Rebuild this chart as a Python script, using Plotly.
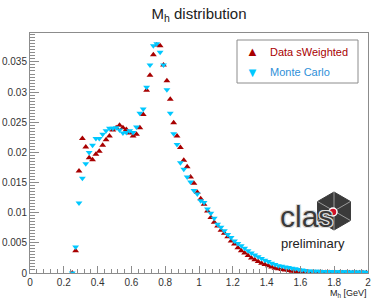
import plotly.graph_objects as go
import math

# ---------------- data ----------------
mass = [round(0.25 + 0.02 * k, 2) for k in range(88)]

data_sw = [
    0.0, 0.0037, 0.0169, 0.0223, 0.0209, 0.0191, 0.0188, 0.0197, 0.0202, 0.0212,
    0.0221, 0.0227, 0.0237, 0.0241, 0.0245, 0.0241, 0.0238, 0.0232, 0.0227, 0.0230,
    0.0241, 0.0263, 0.0303, 0.0328, 0.0362, 0.0378, 0.0377, 0.0345, 0.0319, 0.0288,
    0.0249, 0.0227, 0.0208, 0.0187, 0.0176, 0.0159, 0.0149, 0.0134, 0.0123, 0.0114,
    0.0103, 0.0092, 0.0084, 0.0078, 0.0071, 0.0066, 0.0060, 0.0053, 0.0048, 0.0042,
    0.0037, 0.0033, 0.0029, 0.0025, 0.0022, 0.0019, 0.0016, 0.0014, 0.0012, 0.0010,
    0.0008, 0.0007, 0.0006, 0.0005, 0.0004, 0.0003, 0.00025, 0.0002, 0.00015, 0.00012,
    0.0001, 0.0001, 0.00009, 0.00008, 0.00008, 0.00007, 0.00007, 0.00006, 0.00006, 0.00005,
    0.00005, 0.00005, 0.00004, 0.00004, 0.00004, 0.00003, 0.00003, 0.00003,
]

monte_carlo = [
    0.0, 0.0043, 0.0116, 0.0157, 0.0181, 0.0200, 0.0212, 0.0223, 0.0223, 0.0230,
    0.0236, 0.0240, 0.0240, 0.0241, 0.0237, 0.0232, 0.0233, 0.0236, 0.0233, 0.0242,
    0.0265, 0.0272, 0.0308, 0.0345, 0.0377, 0.0380, 0.0366, 0.0345, 0.0304, 0.0265,
    0.0231, 0.0213, 0.0183, 0.0172, 0.0159, 0.0151, 0.0137, 0.0131, 0.0120, 0.0117,
    0.0106, 0.0099, 0.0091, 0.0081, 0.0076, 0.0070, 0.0064, 0.0059, 0.0053, 0.0049,
    0.0045, 0.0041, 0.0037, 0.0033, 0.0030, 0.0027, 0.0024, 0.0021, 0.0019, 0.0016,
    0.0014, 0.0012, 0.0011, 0.0010, 0.0009, 0.0008, 0.0007, 0.0006, 0.0005, 0.0004,
    0.00035, 0.0003, 0.0003, 0.00028, 0.00026, 0.00025, 0.00024, 0.00023, 0.00022, 0.0002,
    0.0002, 0.00019, 0.00018, 0.00017, 0.00016, 0.00015, 0.00015, 0.00014,
]

x_ticks = [0, 0.2, 0.4, 0.6, 0.8, 1, 1.2, 1.4, 1.6, 1.8, 2]
x_tick_labels = ["0", "0.2", "0.4", "0.6", "0.8", "1", "1.2", "1.4", "1.6", "1.8", "2"]
y_ticks = [0, 0.005, 0.01, 0.015, 0.02, 0.025, 0.03, 0.035]
y_tick_labels = ["0", "0.005", "0.01", "0.015", "0.02", "0.025", "0.03", "0.035"]

RED = "#a80000"
CYAN = "#00c8ff"
FONT = "Liberation Sans"

W, H = 374, 308
L, R, T, B = 30, 6, 33, 35
PW, PH = W - L - R, H - T - B

fig = go.Figure()
fig.add_trace(go.Scatter(
    x=mass, y=data_sw, mode="markers", name="Data sWeighted",
    marker=dict(symbol="triangle-up", size=6, color=RED, line=dict(width=0)),
))
fig.add_trace(go.Scatter(
    x=mass, y=monte_carlo, mode="markers", name="Monte Carlo",
    marker=dict(symbol="triangle-down", size=6, color=CYAN, line=dict(width=0)),
))

fig.update_layout(
    width=W, height=H,
    margin=dict(l=L, r=R, t=T, b=B, autoexpand=False),
    paper_bgcolor="white", plot_bgcolor="white",
    font=dict(family=FONT, size=10, color="#222"),
    showlegend=False,
    title=dict(text="M<sub>h</sub> distribution", x=0.5, xanchor="center", xref="paper",
               y=1 - 14 / H, yanchor="middle", font=dict(size=15, color="#222")),
)

axis_common = dict(
    showgrid=False, zeroline=False, showline=True, linecolor="#8c8c8c", linewidth=1,
    mirror=True, ticks="inside", tickcolor="#8c8c8c", automargin=False,
    tickfont=dict(size=10, color="#333"),
)
fig.update_xaxes(range=[0, 2], tickvals=x_ticks, ticktext=x_tick_labels, ticklen=7,
                 minor=dict(ticks="inside", ticklen=4, dtick=0.04, tickcolor="#8c8c8c"),
                 **axis_common)
fig.update_yaxes(range=[0, 0.0398], tickvals=y_ticks, ticktext=y_tick_labels, ticklen=9,
                 minor=dict(ticks="inside", ticklen=5, dtick=0.0005, tickcolor="#8c8c8c"),
                 **axis_common)

def px(xp):
    return (xp - L) / PW

def py(yp):
    return 1 - (yp - T) / PH

def label(text, x, y, size, color, anchor="center", family=FONT, shadow=None):
    font = dict(size=size, color=color, family=family)
    if shadow:
        font["shadow"] = shadow
    fig.add_annotation(text=text, xref="paper", yref="paper", x=px(x), y=py(y),
                       xanchor=anchor, yanchor="middle", showarrow=False, font=font)

# x-axis title
label("M<sub>h</sub> [GeV]", 369, 293, 9, "#222", anchor="right")

# legend box
fig.add_shape(type="rect", xref="paper", yref="paper",
              x0=px(237), x1=px(358), y0=py(40), y1=py(83),
              line=dict(color="#8c8c8c", width=1), fillcolor="white")
label("▲", 252, 52, 13, RED)
label("Data sWeighted", 268, 52, 11, RED, anchor="left")
label("▼", 252, 72, 13, CYAN)
label("Monte Carlo", 268, 72, 11, "#2f8fd8", anchor="left")

# CLAS logo
cx, cy, rr = 334, 211, 19
verts = [(cx + rr * math.cos(math.radians(90 + 60 * i)), cy - rr * math.sin(math.radians(90 + 60 * i)))
         for i in range(6)]
path = "M " + " L ".join(f"{px(a)},{py(b)}" for a, b in verts) + " Z"
fig.add_shape(type="path", xref="paper", yref="paper", path=path, layer="below",
              fillcolor="#3a3a3a", line=dict(color="#3a3a3a", width=1))
for a, b in verts:
    fig.add_shape(type="line", xref="paper", yref="paper", layer="below",
                  x0=px(cx), y0=py(cy), x1=px(a), y1=py(b),
                  line=dict(color="#9a9a9a", width=1))
white_outline = ("1px 0 0 #ddd, -1px 0 0 #ddd, 0 1px 0 #ddd, 0 -1px 0 #ddd, "
                 "1px 1px 0 #ddd, -1px -1px 0 #ddd, 1px -1px 0 #ddd, -1px 1px 0 #ddd")
label("clas", 306, 216, 30, "#3a3a3a", shadow=white_outline)
fig.add_shape(type="circle", xref="paper", yref="paper",
              x0=px(333 - 4), x1=px(333 + 4), y0=py(212 + 4), y1=py(212 - 4),
              fillcolor="#d0102a", line=dict(color="white", width=1.5))
label("preliminary", 313, 243, 13, "#222")

fig.write_html("out.html", post_script="document.body.style.margin='0px';",
               config={"displayModeBar": False})
